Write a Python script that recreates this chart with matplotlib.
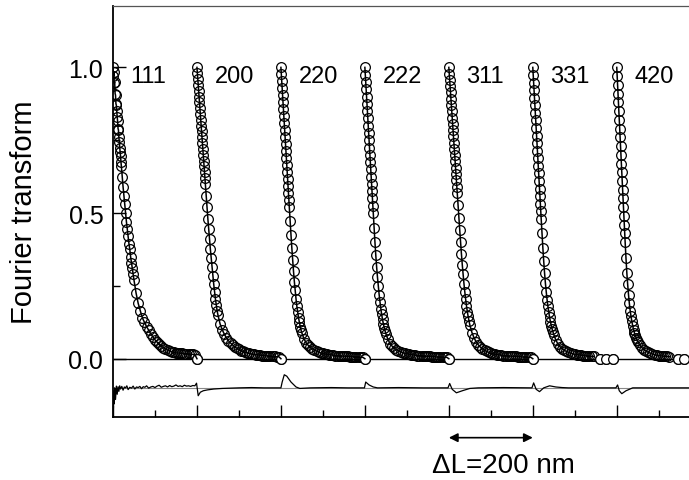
"""
Fourier coefficients of seven reflections, shifted by 200 nm each,
with fit residuals drawn underneath.
"""
import numpy as np
import matplotlib
matplotlib.use('Agg')
import matplotlib.pyplot as plt
from matplotlib.ticker import MultipleLocator, NullFormatter

plt.rcParams['font.family'] = ['Liberation Sans', 'DejaVu Sans']

nan = np.nan

# Fourier length L, nm (shared by all reflections)
L_NM = [0, 1, 2, 3, 4, 5, 6, 7, 8, 9, 10, 11, 12, 13, 14, 15, 16, 17, 18, 19, 20,
        22, 24, 26, 28, 30, 32, 34, 36, 38, 40, 42, 44, 46, 48, 50,
        55, 60, 65, 70, 75, 80, 85, 90, 95, 100, 105, 110, 115, 120, 125,
        130, 135, 140, 145, 150, 155, 160, 165, 170, 175, 180, 185, 190, 195, 200]

LABELS = ['111', '200', '220', '222', '311', '331', '420']

A_111 = [1.00, 0.97, 0.985, 0.945, 0.95, 0.91, 0.905, 0.875, 0.87, 0.85, 0.83,
         0.815, 0.79, 0.785, 0.76, 0.745, 0.725, 0.71, 0.695, 0.675, 0.66,
         0.625, 0.59, 0.56, 0.53, 0.50, 0.47, 0.445, 0.42, 0.395, 0.375,
         0.35, 0.33, 0.31, 0.29, 0.27,
         0.225, 0.19, 0.165, 0.14, 0.125, 0.11, 0.098, 0.085, 0.075, 0.065,
         0.057, 0.05, 0.043, 0.038, 0.033, 0.03, 0.027, 0.024, 0.022, 0.02,
         0.02, 0.018, 0.018, 0.017, 0.017, 0.016, 0.016, 0.015, 0.014, 0.0]

A_200 = [1.00, 0.98, 0.96, 0.94, 0.92, 0.90, 0.88, 0.86, 0.84, 0.82, 0.80,
         0.78, 0.76, 0.74, 0.72, 0.70, 0.68, 0.66, 0.64, 0.62, 0.60,
         0.56, 0.52, 0.48, 0.445, 0.41, 0.375, 0.345, 0.315, 0.285, 0.255,
         0.23, 0.205, 0.185, 0.165, 0.15,
         0.12, 0.10, 0.085, 0.072, 0.062, 0.054, 0.047, 0.041, 0.036, 0.032,
         0.028, 0.025, 0.022, 0.02, 0.018, 0.016, 0.015, 0.014, 0.013, 0.012,
         0.011, 0.01, 0.01, 0.009, 0.009, 0.008, 0.008, 0.007, 0.007, 0.0]

A_220 = [1.00, 0.976, 0.952, 0.928, 0.904, 0.88, 0.856, 0.832, 0.808, 0.784, 0.76,
         0.736, 0.712, 0.688, 0.664, 0.64, 0.616, 0.592, 0.568, 0.544, 0.52,
         0.472, 0.425, 0.38, 0.34, 0.30, 0.265, 0.235, 0.205, 0.18, 0.16,
         0.14, 0.125, 0.11, 0.098, 0.088,
         0.068, 0.055, 0.046, 0.039, 0.034, 0.03, 0.026, 0.023, 0.02, 0.018,
         0.016, 0.015, 0.014, 0.013, 0.012, 0.011, 0.01, 0.01, 0.009, 0.009,
         0.008, 0.008, 0.007, 0.007, 0.006, 0.006, 0.006, 0.005, 0.005, 0.0]

A_222 = [1.00, 0.975, 0.95, 0.925, 0.90, 0.875, 0.85, 0.825, 0.80, 0.775, 0.75,
         0.725, 0.70, 0.675, 0.65, 0.625, 0.60, 0.575, 0.55, 0.525, 0.50,
         0.45, 0.40, 0.355, 0.315, 0.28, 0.25, 0.22, 0.195, 0.172, 0.152,
         0.135, 0.12, 0.107, 0.096, 0.086,
         0.066, 0.052, 0.043, 0.036, 0.031, 0.027, 0.024, 0.021, 0.019, 0.017,
         0.015, 0.014, 0.013, 0.012, 0.011, 0.01, 0.01, 0.009, 0.009, 0.008,
         0.008, 0.007, 0.007, 0.006, 0.006, 0.006, 0.005, 0.005, 0.005, 0.0]

A_311 = [1.00, 0.978, 0.957, 0.935, 0.914, 0.892, 0.871, 0.849, 0.828, 0.806, 0.785,
         0.763, 0.742, 0.72, 0.699, 0.677, 0.656, 0.634, 0.613, 0.591, 0.57,
         0.527, 0.484, 0.441, 0.40, 0.36, 0.323, 0.29, 0.258, 0.23, 0.205,
         0.182, 0.162, 0.145, 0.13, 0.116,
         0.09, 0.072, 0.058, 0.048, 0.04, 0.034, 0.029, 0.025, 0.022, 0.019,
         0.017, 0.015, 0.014, 0.013, 0.012, 0.011, 0.01, 0.01, 0.009, 0.009,
         0.008, 0.008, 0.007, 0.007, 0.006, 0.006, 0.006, 0.005, 0.005, 0.0]

A_331 = [1.00, 0.974, 0.948, 0.922, 0.896, 0.87, 0.844, 0.818, 0.792, 0.766, 0.74,
         0.714, 0.688, 0.662, 0.636, 0.61, 0.584, 0.558, 0.532, 0.506, 0.48,
         0.43, 0.38, 0.335, 0.295, 0.26, 0.23, 0.203, 0.18, 0.16, 0.142,
         0.127, 0.114, 0.102, 0.092, 0.083,
         0.064, 0.05, 0.041, 0.034, 0.029, 0.025, 0.022, 0.019, 0.017, 0.015,
         0.014, 0.013, 0.012, 0.011, 0.01, 0.009, 0.009, 0.008, 0.008, nan,
         nan, 0.0, nan, nan, 0.0, nan, nan, 0.0, nan, nan]

A_420 = [1.00, 0.97, 0.94, 0.91, 0.88, 0.85, 0.82, 0.79, 0.76, 0.73, 0.70,
         0.67, 0.64, 0.61, 0.58, 0.55, 0.52, 0.49, 0.46, 0.43, 0.40,
         0.345, 0.295, 0.255, 0.22, 0.19, 0.165, 0.145, 0.128, 0.113, 0.10,
         0.089, 0.08, 0.072, 0.065, 0.059,
         0.047, 0.038, 0.031, 0.026, 0.022, 0.019, 0.016, 0.014, 0.012, 0.011,
         0.01, 0.009, 0.008, 0.008, 0.007, nan, nan, nan, 0.0, nan,
         nan, 0.0, nan, nan, nan, nan, nan, nan, nan, nan]

CURVES = [A_111, A_200, A_220, A_222, A_311, A_331, A_420]

# residuals (fit - data), shifted to -0.1, against the shifted L axis
RESID_X = [0, 1, 2, 3, 4, 6, 8, 10, 12, 14, 16, 18, 21, 24, 27, 30, 33, 36, 40,
           44, 48, 52, 56, 60, 64, 68, 72, 76, 80, 85, 90, 95, 100, 105, 110,
           115, 120, 125, 130, 135, 140, 145, 150, 155, 160, 165, 170, 175,
           180, 185, 190, 195, 199, 203, 208, 215, 225, 240, 260, 280, 300,
           330, 360, 400, 403, 408, 414, 424, 436, 445, 470, 520, 560, 599,
           602, 610, 620, 630, 680, 740, 798, 802, 808, 818, 832, 850, 870,
           930, 998, 1002, 1008, 1016, 1026, 1040, 1055, 1070, 1085, 1140,
           1198, 1202, 1206, 1212, 1222, 1238, 1300, 1400]
RESID_Y = [-0.13, -0.17, -0.11, -0.155, -0.1, -0.14, -0.094, -0.122, -0.096,
           -0.112, -0.093, -0.104, -0.095, -0.108, -0.097, -0.1, -0.093,
           -0.106, -0.098, -0.101, -0.094, -0.104, -0.097, -0.099, -0.095,
           -0.103, -0.096, -0.098, -0.093, -0.101, -0.097, -0.095, -0.099,
           -0.094, -0.091, -0.098, -0.095, -0.093, -0.097, -0.092, -0.096,
           -0.094, -0.09, -0.095, -0.093, -0.096, -0.091, -0.094, -0.093,
           -0.095, -0.092, -0.093, -0.084, -0.127, -0.115, -0.11, -0.107, -0.104,
           -0.102, -0.101, -0.1, -0.099, -0.1, -0.1, -0.08, -0.055, -0.06,
           -0.08, -0.097, -0.102, -0.1, -0.099, -0.1, -0.1, -0.08, -0.09,
           -0.097, -0.1, -0.099, -0.1, -0.1, -0.085, -0.105, -0.117, -0.11,
           -0.102, -0.1, -0.099, -0.1, -0.083, -0.105, -0.113, -0.1, -0.093,
           -0.097, -0.099, -0.1, -0.1, -0.1, -0.09, -0.11, -0.12, -0.11,
           -0.1, -0.1, -0.1]

SHIFT_NM = 200

fig = plt.figure(figsize=(6.89, 4.81), dpi=100)
fig.patch.set_facecolor('white')
ax = fig.add_axes([0.164, 0.131, 0.853, 0.854])

ax.axhline(0, color='black', lw=1.0, zorder=1)
ax.axhline(-0.1, color='#888888', lw=0.8, zorder=1)
ax.plot(RESID_X, RESID_Y, color='black', lw=0.9, zorder=2)

L = np.array(L_NM, dtype=float)
for i, (lab, a) in enumerate(zip(LABELS, CURVES)):
    x = L + i * SHIFT_NM
    a = np.array(a, dtype=float)
    # open circles; the lone end points sit on the zero line with white fill
    ax.plot(x, a, linestyle='none', marker='o', markersize=7,
            markerfacecolor='none', markeredgecolor='black',
            markeredgewidth=0.9, zorder=3)
    end = a == 0
    ax.plot(x[end], a[end], linestyle='none', marker='o', markersize=7,
            markerfacecolor='white', markeredgecolor='black',
            markeredgewidth=0.9, zorder=3.5)
    ax.plot(x, a, color='black', lw=1.1, zorder=4)
    ax.text(i * SHIFT_NM + 42, 0.97, lab, fontsize=17, ha='left', va='center')

ax.set_xlim(0, 1400)
ax.set_ylim(-0.2, 1.21)

ax.xaxis.set_major_locator(MultipleLocator(200))
ax.xaxis.set_minor_locator(MultipleLocator(100))
ax.xaxis.set_major_formatter(NullFormatter())
ax.yaxis.set_major_locator(MultipleLocator(0.5))
ax.yaxis.set_minor_locator(MultipleLocator(0.25))
ax.tick_params(which='both', direction='in', top=False, right=False)
ax.tick_params(which='major', length=9, width=1.0, labelsize=18, pad=7)
ax.tick_params(which='minor', length=5, width=1.0)
ax.yaxis.set_major_formatter(plt.FormatStrFormatter('%.1f'))

for side in ['left', 'bottom']:
    ax.spines[side].set_linewidth(1.3)
ax.spines['top'].set_linewidth(0.9)
ax.spines['top'].set_color('#555555')

ax.set_ylabel('Fourier transform', fontsize=21, labelpad=22)

# scale arrow below the axis
ax.annotate('', xy=(800, -0.271), xytext=(1000, -0.271),
            arrowprops=dict(arrowstyle='<|-|>', color='black', lw=1.2,
                            mutation_scale=13, shrinkA=0, shrinkB=0),
            annotation_clip=False)
ax.text(930, -0.364, '\u0394L=200 nm', fontsize=20, ha='center', va='center',
        clip_on=False)

fig.savefig('out.png', dpi=100)
